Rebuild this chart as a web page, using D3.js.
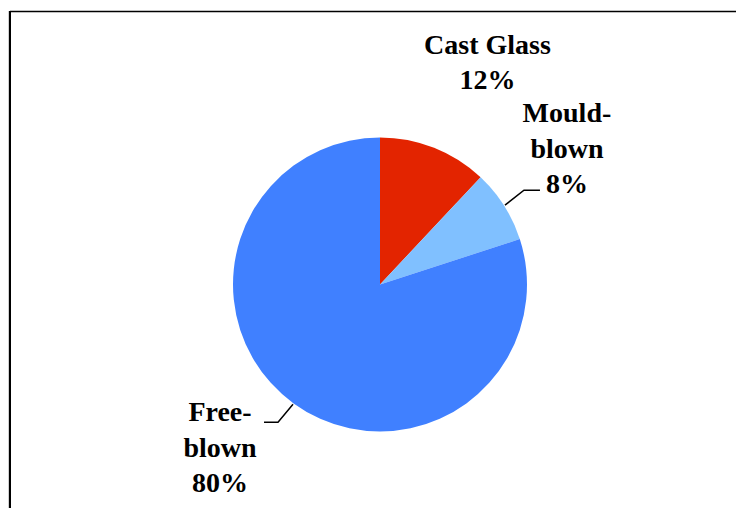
<!DOCTYPE html>
<html>
<head>
<meta charset="utf-8">
<script src="https://cdn.jsdelivr.net/npm/d3@7"></script>
<style>
  html, body { margin: 0; padding: 0; background: #fff; }
  svg { display: block; }
  text { font-family: "Liberation Serif", "Times New Roman", serif; font-weight: bold; font-size: 28px; fill: #000; }
</style>
</head>
<body>
<script>
const categories = ["Cast Glass", "Mould-blown", "Free-blown"];
const shares = [12, 8, 80];
const labelLines = [["Cast Glass", "12%"], ["Mould-", "blown", "8%"], ["Free-", "blown", "80%"]];
const colors = ["#e32400", "#80c0ff", "#4080ff"];

const width = 736;
const height = 508;
const cx = 380;
const cy = 284.5;
const radius = 147;
const lineGap = 35.5;

const svg = d3
  .select("body")
  .append("svg")
  .attr("width", width)
  .attr("height", height);

// frame (only top and left edges are visible in the crop)
svg.append("line")
  .attr("x1", 8.5).attr("y1", 11).attr("x2", 8.5).attr("y2", height)
  .attr("stroke", "#d0d0d0").attr("stroke-width", 1);
svg.append("line")
  .attr("x1", 10).attr("y1", 11.5).attr("x2", width).attr("y2", 11.5)
  .attr("stroke", "#000").attr("stroke-width", 1.5);
svg.append("line")
  .attr("x1", 10).attr("y1", 11).attr("x2", 10).attr("y2", height)
  .attr("stroke", "#000").attr("stroke-width", 2);

const data = categories.map((c, i) => ({ name: c, value: shares[i], lines: labelLines[i], color: colors[i] }));

const pie = d3.pie().sort(null).value((d) => d.value).startAngle(0).endAngle(2 * Math.PI);
const arc = d3.arc().innerRadius(0).outerRadius(radius);
const arcs = pie(data);

const g = svg.append("g").attr("transform", `translate(${cx},${cy})`);

g.selectAll("path")
  .data(arcs)
  .join("path")
  .attr("d", arc)
  .attr("fill", (d) => d.data.color);

// label placement: offsets of first baseline relative to the edge point
const mid = (d) => (d.startAngle + d.endAngle) / 2;
const edge = (d, r) => [Math.sin(mid(d)) * r, -Math.cos(mid(d)) * r];

const labelSpec = [
  { dx: 53, dy: -93, leader: null },
  { dx: 62, dy: -83, leader: { elbow: [19, -15], end: [35, -15] } },
  { dx: -73, dy: 17, leader: { elbow: [-15, 18], end: [-29, 18] } },
];

arcs.forEach((d, i) => {
  const spec = labelSpec[i];
  const [ex, ey] = edge(d, radius + 1);
  if (spec.leader) {
    const pts = [
      [ex, ey],
      [ex + spec.leader.elbow[0], ey + spec.leader.elbow[1]],
      [ex + spec.leader.end[0], ey + spec.leader.end[1]],
    ];
    g.append("path")
      .attr("d", d3.line()(pts))
      .attr("fill", "none")
      .attr("stroke", "#000")
      .attr("stroke-width", 1.5);
  }
  const t = g.append("text")
    .attr("text-anchor", "middle")
    .attr("x", ex + spec.dx)
    .attr("y", ey + spec.dy);
  d.data.lines.forEach((ln, j) => {
    t.append("tspan")
      .attr("x", ex + spec.dx)
      .attr("y", ey + spec.dy + j * lineGap)
      .text(ln);
  });
});
</script>
</body>
</html>
